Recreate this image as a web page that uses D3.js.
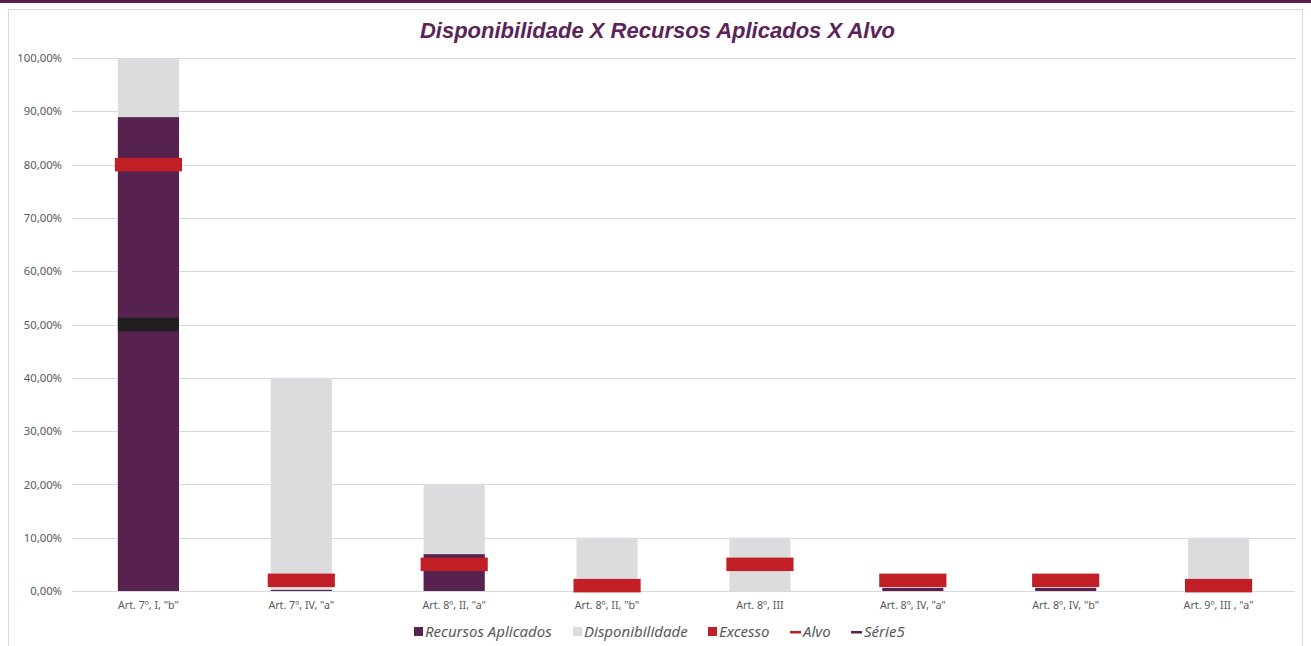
<!DOCTYPE html>
<html><head><meta charset="utf-8">
<script src="https://cdn.jsdelivr.net/npm/d3@7"></script>
<style>html,body{margin:0;padding:0;background:#fff;}svg{display:block;}</style>
</head><body>
<svg id="chart" width="1311" height="646"></svg>
<script>
const categories = ['Art. 7º, I, "b"', 'Art. 7º, IV, "a"', 'Art. 8º, II, "a"', 'Art. 8º, II, "b"', 'Art. 8º, III', 'Art. 8º, IV, "a"', 'Art. 8º, IV, "b"', 'Art. 9º, III , "a"'];
const recursosAplicados = [0.889, 0.002, 0.069, 0, 0, 0.006, 0.006, 0];
const disponibilidade = [1.00, 0.40, 0.20, 0.10, 0.10, 0, 0, 0.10];
const excesso = [0, 0, 0, 0, 0, 0, 0, 0];
const alvo = [0.80, 0.02, 0.05, 0.01, 0.05, 0.02, 0.02, 0.01];
const serie5 = [0.50, null, null, null, null, null, null, null];
const yTicks = [0, 0.1, 0.2, 0.3, 0.4, 0.5, 0.6, 0.7, 0.8, 0.9, 1.0];
const legendItems = ["Recursos Aplicados", "Disponibilidade", "Excesso", "Alvo", "Série5"];

const C = {purple:"#57224f", grey:"#dcdcde", red:"#c01f25", black:"#231f20", grid:"#d9d9d9", text:"#595959", title:"#5b2459"};

const svg = d3.select("#chart");
// top stripe and frame
svg.append("rect").attr("x",0).attr("y",0).attr("width",1311).attr("height",3).attr("fill","#5a2150");
svg.append("rect").attr("x",8.5).attr("y",9.5).attr("width",1294).attr("height",660).attr("fill","#fff").attr("stroke","#d9d9d9").attr("stroke-width",1);

const x = d3.scaleBand().domain(categories).range([72,1295]).paddingInner(0.6).paddingOuter(0.3);
const y = d3.scaleLinear().domain([0,1]).range([591,58]);

// gridlines
svg.append("g").selectAll("line").data(yTicks).join("line")
  .attr("x1",72).attr("x2",1295).attr("y1",d=>Math.round(y(d))+0.5).attr("y2",d=>Math.round(y(d))+0.5)
  .attr("stroke",C.grid).attr("stroke-width",1);

// y axis labels
const fmt = v => d3.format(".2f")(v*100).replace(".",",") + "%";
const yAxis = d3.axisLeft(y).tickValues(yTicks).tickFormat(fmt).tickSize(0).tickPadding(10);
const gy = svg.append("g").attr("transform","translate(72,0)").call(yAxis);
gy.select(".domain").remove();
gy.selectAll("text").attr("fill",C.text).style("font-family","'Noto Sans', sans-serif").style("font-size","11.3px");

// bars
const bw = x.bandwidth();
svg.append("g").selectAll("rect").data(categories).join("rect")
  .attr("x",d=>x(d)).attr("width",bw)
  .attr("y",(d,i)=>y(disponibilidade[i])).attr("height",(d,i)=>y(0)-y(disponibilidade[i]))
  .attr("fill",C.grey);
svg.append("g").selectAll("rect").data(categories).join("rect")
  .attr("x",d=>x(d)).attr("width",bw)
  .attr("y",(d,i)=>y(recursosAplicados[i])).attr("height",(d,i)=>y(0)-y(recursosAplicados[i]))
  .attr("fill",C.purple);
svg.append("g").selectAll("rect").data(categories).join("rect")
  .attr("x",d=>x(d)).attr("width",bw)
  .attr("y",(d,i)=>y(excesso[i])).attr("height",(d,i)=>y(0)-y(excesso[i]))
  .attr("fill",C.red);

// axis baseline
svg.append("line").attr("x1",72).attr("x2",1295).attr("y1",591.5).attr("y2",591.5).attr("stroke",C.grid);

// Série5 markers
const mh = 13.5;
svg.append("g").selectAll("rect").data(categories.filter((d,i)=>serie5[i]!=null)).join("rect")
  .attr("x",d=>x(d)).attr("width",bw)
  .attr("y",d=>y(serie5[categories.indexOf(d)])-mh/2).attr("height",mh)
  .attr("fill",C.black);
// Alvo markers
const aw = bw+6;
svg.append("g").selectAll("rect").data(categories).join("rect")
  .attr("x",d=>x(d)+bw/2-aw/2).attr("width",aw)
  .attr("y",(d,i)=>y(alvo[i])-mh/2).attr("height",mh)
  .attr("fill",C.red);

// x labels
svg.append("g").selectAll("text").data(categories).join("text")
  .attr("x",d=>x(d)+bw/2).attr("y",609).attr("text-anchor","middle")
  .attr("fill",C.text).style("font-family","'Noto Sans', sans-serif").style("font-size","10.7px")
  .text(d=>d);

// title
svg.append("text").attr("x",657.5).attr("y",38).attr("text-anchor","middle")
  .attr("fill",C.title).style("font-family","'Liberation Sans', Arial, sans-serif")
  .style("font-size","22px").style("font-weight","bold").style("font-style","italic")
  .text("Disponibilidade X Recursos Aplicados X Alvo");

// legend
const legX = [414, 573, 708, 790, 851];
const lg = svg.append("g");
legendItems.forEach((name,i)=>{
  const g = lg.append("g").attr("transform",`translate(${legX[i]},0)`);
  if(i<3){
    g.append("rect").attr("x",0).attr("y",627).attr("width",9).attr("height",9)
      .attr("fill",[C.purple,C.grey,C.red][i]);
  } else {
    g.append("rect").attr("x",0).attr("y",631).attr("width",11).attr("height",2.5)
      .attr("fill",i===3?C.red:C.purple);
  }
  g.append("text").attr("x",i<3?11:13).attr("y",637).attr("fill",C.text)
    .style("font-family","'Noto Sans', sans-serif").style("font-size","15px").style("font-style","italic")
    .text(name);
});
</script>
</body></html>
